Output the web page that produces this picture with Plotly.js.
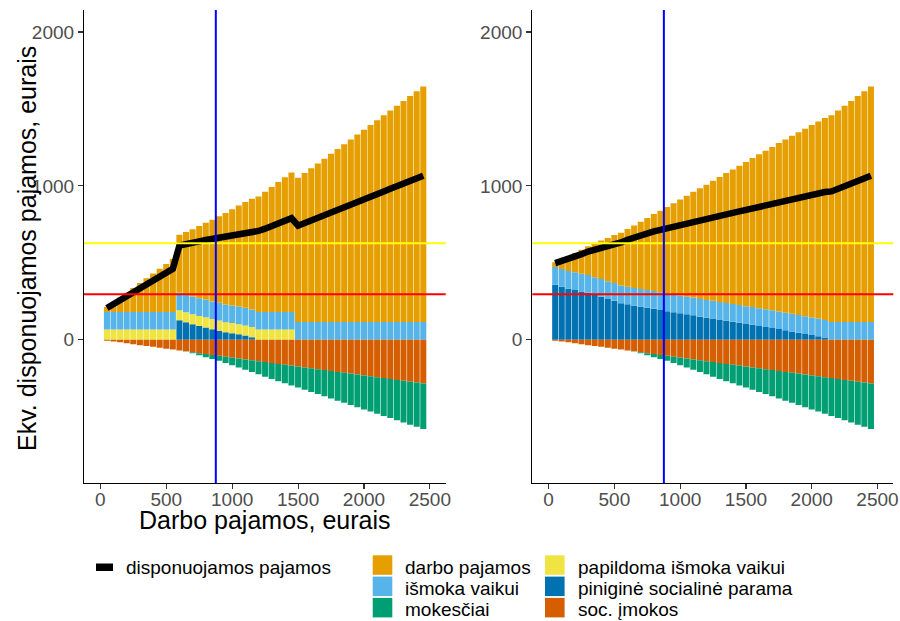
<!DOCTYPE html>
<html>
<head>
<meta charset="utf-8">
<script src="https://cdn.plot.ly/plotly-3.0.1.min.js"></script>
<style>
  html, body { margin: 0; padding: 0; background: #ffffff; }
  #chart { width: 900px; height: 621px; }
</style>
</head>
<body>
<div id="chart"></div>
<script>
// ---------- DATA ----------
const earningsX = [50,100,150,200,250,300,350,400,450,500,550,600,650,700,750,800,850,900,950,1000,1050,1100,1150,1200,1250,1300,1350,1400,1450,1500,1550,1600,1650,1700,1750,1800,1850,1900,1950,2000,2050,2100,2150,2200,2250,2300,2350,2400,2450];

// darbo pajamos (equivalised)
const darboPajamos = [31,62,94,125,156,187,219,250,281,312,344,375,406,437,469,500,531,562,594,625,656,687,719,750,781,812,844,875,906,937,969,1000,1031,1062,1094,1125,1156,1187,1219,1250,1281,1312,1344,1375,1406,1437,1469,1500,1531];

// išmoka vaikui (same in both panels)
const ismokaVaikui = [115,115,115,115,115,115,115,115,115,115,115,115,115,115,115,115,115,115,115,115,115,115,115,115,115,115,115,115,115,115,115,115,115,115,115,115,115,115,115,115,115,115,115,115,115,115,115,115,115];

// papildoma išmoka vaikui (left panel)
const papildomaLeft = [66,66,66,66,66,66,66,66,66,66,66,66,66,66,66,66,66,66,66,66,66,66,66,66,66,66,66,66,66,0,0,0,0,0,0,0,0,0,0,0,0,0,0,0,0,0,0,0,0];

// piniginė socialinė parama
const pinigineLeft = [0,0,0,0,0,0,0,0,0,0,0,126,113,100,89,80,68,59,48,42,35,27,16,0,0,0,0,0,0,0,0,0,0,0,0,0,0,0,0,0,0,0,0,0,0,0,0,0,0];
const pinigineRight = [358,345,332,323,314,306,291,280,265,254,237,230,221,215,208,202,193,185,178,172,165,159,150,143,138,131,124,117,110,103,97,90,83,76,69,61,54,46,38,30,23,14,0,0,0,0,0,0,0];

// soc. įmokos (negative)
const socImokos = [-6,-12,-17,-23,-29,-35,-41,-46,-52,-58,-64,-70,-75,-81,-87,-93,-99,-104,-110,-116,-122,-128,-133,-139,-145,-151,-157,-162,-168,-174,-180,-186,-191,-197,-203,-209,-215,-220,-226,-232,-238,-244,-249,-255,-261,-267,-273,-278,-284];

// mokesčiai (negative)
const mokesciai = [0,0,0,0,0,0,0,0,0,0,0,0,-1,-6,-13,-20,-26,-33,-41,-49,-58,-67,-76,-85,-95,-104,-112,-120,-129,-137,-145,-154,-162,-170,-179,-187,-195,-204,-212,-221,-229,-237,-246,-254,-262,-271,-279,-288,-296];

// reference lines
const yellowLineY = 627;
const redLineY = 295;
const blueLineX = 876;

const yTicks = [0, 1000, 2000];
const xTicks = [0, 500, 1000, 1500, 2000, 2500];

const seriesNames = {
  darbo: 'darbo pajamos',
  ismoka: 'išmoka vaikui',
  mokesciai: 'mokesčiai',
  papildoma: 'papildoma išmoka vaikui',
  pinigine: 'piniginė socialinė parama',
  soc: 'soc. įmokos',
  disp: 'disponuojamos pajamos'
};

const colors = {
  darbo: '#E69F00',
  ismoka: '#56B4E9',
  mokesciai: '#009E73',
  papildoma: '#F0E442',
  pinigine: '#0072B2',
  soc: '#D55E00'
};

// ---------- BUILD ----------
function sumSeries(arrs) {
  return earningsX.map((_, i) => arrs.reduce((s, a) => s + a[i], 0));
}

function panelTraces(xa, ya, pinigine, papildoma) {
  const t = [];
  const mk = (y, key) => ({
    type: 'bar', x: earningsX, y: y, xaxis: xa, yaxis: ya,
    name: seriesNames[key], marker: { color: colors[key], line: { width: 0 } },
    showlegend: false, hoverinfo: 'skip'
  });
  t.push(mk(pinigine, 'pinigine'));
  if (papildoma) t.push(mk(papildoma, 'papildoma'));
  t.push(mk(ismokaVaikui, 'ismoka'));
  t.push(mk(darboPajamos, 'darbo'));
  t.push(mk(socImokos, 'soc'));
  t.push(mk(mokesciai, 'mokesciai'));
  const parts = [pinigine, ismokaVaikui, darboPajamos, socImokos, mokesciai];
  if (papildoma) parts.push(papildoma);
  t.push({
    type: 'scatter', mode: 'lines', x: earningsX, y: sumSeries(parts),
    xaxis: xa, yaxis: ya, name: seriesNames.disp,
    line: { color: '#000000', width: 6.5 }, showlegend: false, hoverinfo: 'skip'
  });
  return t;
}

const traces = [].concat(
  panelTraces('x', 'y', pinigineLeft, papildomaLeft),
  panelTraces('x2', 'y2', pinigineRight, null)
);

const W = 900, H = 621;
const px = v => v / W;
const py = v => 1 - v / H;

const FONT = 'Liberation Sans, Arial, sans-serif';

const xCommon = {
  range: [-124, 2620], tickvals: xTicks, ticktext: xTicks.map(String),
  showgrid: false, zeroline: false, showline: true, linecolor: '#000000', linewidth: 1.1,
  ticks: 'outside', ticklen: 5, tickcolor: '#333333', tickwidth: 1.1,
  ticklabelstandoff: -6,
  tickfont: { family: FONT, size: 19, color: '#4D4D4D' }, fixedrange: true
};
const yCommon = {
  range: [-933, 2143], tickvals: yTicks, ticktext: yTicks.map(String),
  showgrid: false, zeroline: false, showline: true, linecolor: '#000000', linewidth: 1.1,
  ticks: 'outside', ticklen: 5, tickcolor: '#333333', tickwidth: 1.1,
  tickfont: { family: FONT, size: 19, color: '#4D4D4D' }, fixedrange: true,
  domain: [py(483.3), py(10)]
};

const shapes = [];
[['x', 'y'], ['x2', 'y2']].forEach(([xa, ya]) => {
  shapes.push({ type: 'line', xref: xa + ' domain', yref: ya, x0: 0, x1: 1, y0: yellowLineY, y1: yellowLineY, line: { color: '#FFFF00', width: 2 }, layer: 'above' });
  shapes.push({ type: 'line', xref: xa + ' domain', yref: ya, x0: 0, x1: 1, y0: redLineY, y1: redLineY, line: { color: '#FF0000', width: 2 }, layer: 'above' });
  shapes.push({ type: 'line', xref: xa, yref: ya + ' domain', x0: blueLineX, x1: blueLineX, y0: 0, y1: 1, line: { color: '#0000FF', width: 2 }, layer: 'above' });
});

// ----- manual legend -----
const annotations = [];
const LEG_FONT = { family: FONT, size: 19, color: '#000000' };
shapes.push({ type: 'rect', xref: 'paper', yref: 'paper', x0: px(96), x1: px(113), y0: py(571), y1: py(563.5), fillcolor: '#000000', line: { width: 0 } });
annotations.push({ xref: 'paper', yref: 'paper', x: px(124), y: py(567.3), xanchor: 'left', yanchor: 'middle', text: seriesNames.disp, showarrow: false, font: LEG_FONT });

const legendCols = [
  { keyX: 372.7, textX: 403, items: ['darbo', 'ismoka', 'mokesciai'] },
  { keyX: 545, textX: 576.3, items: ['papildoma', 'pinigine', 'soc'] }
];
const rowTop = 555.3, rowPitch = 21.3, keyH = 19.5;
legendCols.forEach(col => {
  col.items.forEach((key, r) => {
    const top = rowTop + r * rowPitch;
    shapes.push({ type: 'rect', xref: 'paper', yref: 'paper', x0: px(col.keyX), x1: px(col.keyX + 19.6), y0: py(top + keyH), y1: py(top), fillcolor: colors[key], line: { width: 0 } });
    annotations.push({ xref: 'paper', yref: 'paper', x: px(col.textX), y: py(top + 12), xanchor: 'left', yanchor: 'middle', text: seriesNames[key], showarrow: false, font: LEG_FONT });
  });
});

// axis titles (left panel only)
annotations.push({ xref: 'paper', yref: 'paper', x: px(265), y: py(519.5), xanchor: 'center', yanchor: 'middle', text: 'Darbo pajamos, eurais', showarrow: false, font: { family: FONT, size: 25, color: '#000000' } });
annotations.push({ xref: 'paper', yref: 'paper', x: px(27), y: py(249), xanchor: 'center', yanchor: 'middle', textangle: -90, text: 'Ekv. disponuojamos pajamos, eurais', showarrow: false, font: { family: FONT, size: 25, color: '#000000' } });

const layout = {
  width: W, height: H,
  margin: { l: 0, r: 0, t: 0, b: 0, pad: 0 },
  paper_bgcolor: '#ffffff', plot_bgcolor: '#ffffff',
  barmode: 'relative', bargap: 0.08,
  showlegend: false,
  font: { family: FONT },
  xaxis: Object.assign({}, xCommon, { domain: [px(84), px(445.7)], anchor: 'y' }),
  xaxis2: Object.assign({}, xCommon, { domain: [px(532.3), px(893.3)], anchor: 'y2' }),
  yaxis: Object.assign({}, yCommon, { anchor: 'x' }),
  yaxis2: Object.assign({}, yCommon, { anchor: 'x2' }),
  shapes: shapes,
  annotations: annotations
};

Plotly.newPlot('chart', traces, layout, { displayModeBar: false, staticPlot: true });
</script>
</body>
</html>
